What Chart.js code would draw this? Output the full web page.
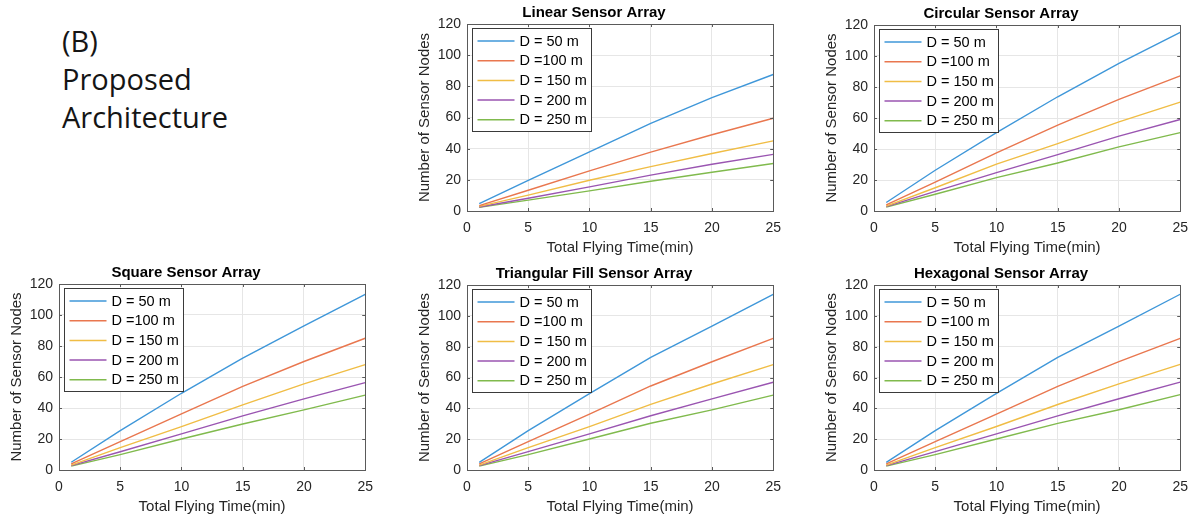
<!DOCTYPE html>
<html>
<head>
<meta charset="utf-8">
<script src="https://cdn.jsdelivr.net/npm/chart.js@4/dist/chart.umd.min.js"></script>
<style>
  body { margin: 0; background: #fff; }
  #page { position: relative; width: 1198px; height: 521px; overflow: hidden; background: #fff; }
  #caption {
    position: absolute; left: 62px; top: 22px;
    font-family: "Open Sans", "Noto Sans", sans-serif; font-size: 29px; line-height: 38px;
    color: #151515;
  }
  canvas { position: absolute; }
</style>
</head>
<body>
<div id="page">
  <div id="caption">(B)<br>Proposed<br>Architecture</div>
</div>
<script>
// flying time samples (min)
const flyTime = [1, 5, 10, 15, 20, 25];
const seriesNames = ['D = 50 m', 'D =100 m', 'D = 150 m', 'D = 200 m', 'D = 250 m'];
const seriesColors = ['#3f97d9', '#e9774f', '#f0bd45', '#9a55b1', '#80ba4d'];
const xTicks = [0, 5, 10, 15, 20, 25];
const yTicks = [0, 20, 40, 60, 80, 100, 120];

// number of sensor nodes per array layout, one row per spacing D
const linearNodes = [
  [4.7, 19.7, 38.0, 56.3, 72.8, 87.6],
  [3.5, 13.3, 25.8, 37.8, 48.9, 59.5],
  [3.0, 10.2, 19.7, 28.5, 36.9, 45.0],
  [2.6, 8.2, 15.5, 23.0, 30.0, 36.3],
  [2.3, 7.0, 12.9, 19.1, 24.9, 30.5]
];
const circularNodes = [
  [5.5, 26.3, 50.6, 73.7, 95.2, 115.3],
  [4.0, 18.7, 37.5, 55.4, 72.0, 87.2],
  [3.2, 15.0, 30.2, 43.5, 57.5, 70.2],
  [2.8, 12.7, 24.8, 36.4, 48.3, 59.0],
  [2.5, 10.8, 21.5, 31.0, 41.4, 50.6]
];
const squareNodes = [
  [5.0, 25.4, 49.5, 72.2, 93.0, 113.3],
  [4.0, 18.3, 36.2, 53.9, 70.0, 85.0],
  [3.2, 14.4, 28.0, 42.0, 55.6, 68.0],
  [2.8, 11.8, 23.3, 34.9, 45.9, 56.4],
  [2.5, 9.9, 20.0, 29.7, 38.8, 48.3]
];
const triangularNodes = [
  [5.0, 25.5, 49.6, 73.1, 93.3, 113.9],
  [4.0, 18.4, 36.3, 54.5, 70.2, 85.4],
  [3.2, 14.5, 28.1, 42.6, 55.8, 68.3],
  [2.8, 11.9, 23.4, 35.2, 46.1, 56.9],
  [2.5, 10.0, 20.1, 30.3, 39.0, 48.6]
];
const hexagonalNodes = [
  [5.0, 25.5, 49.7, 73.0, 93.4, 114.0],
  [4.0, 18.4, 36.3, 54.3, 70.3, 85.4],
  [3.2, 14.5, 28.2, 42.5, 55.9, 68.5],
  [2.8, 11.9, 23.4, 35.1, 46.2, 57.0],
  [2.5, 10.0, 20.1, 30.2, 39.1, 48.9]
];

// plot boxes on the page: [left, top, right, bottom]
const panels = [
  { title: 'Linear Sensor Array', values: linearNodes, box: [467, 24, 776, 211] },
  { title: 'Circular Sensor Array', values: circularNodes, box: [874, 25, 1183, 211] },
  { title: 'Square Sensor Array', values: squareNodes, box: [59, 284, 368, 470] },
  { title: 'Triangular Fill Sensor Array', values: triangularNodes, box: [467, 285, 776, 470] },
  { title: 'Hexagonal Sensor Array', values: hexagonalNodes, box: [874, 285, 1183, 470] }
];

const PAD_LEFT = 55, PAD_TOP = 25, PAD_RIGHT = 14, PAD_BOTTOM = 50;
const FONT = '"Liberation Sans", Arial, Helvetica, sans-serif';

// axes box with inward tick marks on all four sides
const boxPlugin = {
  id: 'boxPlugin',
  afterDatasetsDraw(chart) {
    const { ctx, chartArea: a, scales } = chart;
    ctx.save();
    ctx.strokeStyle = '#5a5a5a';
    ctx.lineWidth = 1;
    ctx.strokeRect(Math.round(a.left) + 0.5, Math.round(a.top) + 0.5,
      Math.round(a.right - a.left), Math.round(a.bottom - a.top));
    ctx.beginPath();
    scales.x.ticks.forEach((t, i) => {
      const px = Math.round(scales.x.getPixelForTick(i)) + 0.5;
      ctx.moveTo(px, a.bottom); ctx.lineTo(px, a.bottom - 3);
      ctx.moveTo(px, a.top); ctx.lineTo(px, a.top + 3);
    });
    scales.y.ticks.forEach((t, i) => {
      const py = Math.round(scales.y.getPixelForTick(i)) + 0.5;
      ctx.moveTo(a.left, py); ctx.lineTo(a.left + 3, py);
      ctx.moveTo(a.right, py); ctx.lineTo(a.right - 3, py);
    });
    ctx.stroke();
    ctx.restore();
  }
};

// boxed legend in the upper left corner of the plot
const insetLegend = {
  id: 'insetLegend',
  afterDraw(chart) {
    const { ctx, chartArea: a } = chart;
    const x0 = Math.round(a.left) + 5.5, y0 = Math.round(a.top) + 4.5;
    const w = 119, h = 103;
    ctx.save();
    ctx.fillStyle = '#fff';
    ctx.fillRect(x0, y0, w, h);
    ctx.strokeStyle = '#3a3a3a';
    ctx.lineWidth = 1;
    ctx.strokeRect(x0, y0, w, h);
    ctx.font = '14.5px ' + FONT;
    ctx.textBaseline = 'middle';
    ctx.fillStyle = '#000';
    chart.data.datasets.forEach((ds, i) => {
      const cy = y0 + 12.5 + i * 19.7;
      ctx.strokeStyle = ds.borderColor;
      ctx.lineWidth = 1.5;
      ctx.beginPath();
      ctx.moveTo(x0 + 5, cy);
      ctx.lineTo(x0 + 42, cy);
      ctx.stroke();
      ctx.fillText(ds.label, x0 + 47, cy + 0.5);
    });
    ctx.restore();
  }
};

function buildChart(panel) {
  const [l, t, r, b] = panel.box;
  const canvas = document.createElement('canvas');
  const w = (r - l) + PAD_LEFT + PAD_RIGHT;
  const h = (b - t) + PAD_TOP + PAD_BOTTOM;
  canvas.width = w;
  canvas.height = h;
  canvas.style.left = (l - PAD_LEFT) + 'px';
  canvas.style.top = (t - PAD_TOP) + 'px';
  canvas.style.width = w + 'px';
  canvas.style.height = h + 'px';
  document.getElementById('page').appendChild(canvas);

  const datasets = panel.values.map((row, i) => ({
    label: seriesNames[i],
    data: row.map((v, j) => ({ x: flyTime[j], y: v })),
    borderColor: seriesColors[i],
    backgroundColor: seriesColors[i],
    borderWidth: 1.4,
    pointRadius: 0,
    tension: 0,
    fill: false
  }));

  new Chart(canvas.getContext('2d'), {
    type: 'line',
    data: { datasets },
    plugins: [boxPlugin, insetLegend],
    options: {
      responsive: false,
      animation: false,
      devicePixelRatio: 1,
      layout: { padding: { left: 0, top: 0, right: PAD_RIGHT, bottom: 0 } },
      plugins: {
        legend: { display: false },
        tooltip: { enabled: false },
        title: {
          display: true,
          text: panel.title,
          color: '#000',
          font: { family: FONT, size: 15, weight: 'bold', lineHeight: 1.2 },
          padding: { top: 5, bottom: 2 }
        }
      },
      scales: {
        x: {
          type: 'linear',
          min: 0,
          max: 25,
          afterBuildTicks(scale) { scale.ticks = xTicks.map(v => ({ value: v })); },
          afterFit(scale) { scale.height = PAD_BOTTOM; },
          grid: { color: '#e6e6e6', drawTicks: false },
          border: { display: true, color: '#5a5a5a' },
          ticks: { color: '#262626', padding: 9, maxRotation: 0, font: { family: FONT, size: 14 } },
          title: {
            display: true,
            text: 'Total Flying Time(min)',
            color: '#262626',
            font: { family: FONT, size: 15, lineHeight: 1.2 },
            padding: { top: 4, bottom: 4 }
          }
        },
        y: {
          type: 'linear',
          min: 0,
          max: 120,
          afterBuildTicks(scale) { scale.ticks = yTicks.map(v => ({ value: v })); },
          afterFit(scale) { scale.width = PAD_LEFT; },
          grid: { color: '#e6e6e6', drawTicks: false },
          border: { display: true, color: '#5a5a5a' },
          ticks: { color: '#262626', padding: 6, font: { family: FONT, size: 14 } },
          title: {
            display: true,
            text: 'Number of Sensor Nodes',
            color: '#262626',
            font: { family: FONT, size: 15, lineHeight: 1.2 },
            padding: { top: 4, bottom: 4 }
          }
        }
      }
    }
  });
}

panels.forEach(buildChart);
</script>
</body>
</html>
